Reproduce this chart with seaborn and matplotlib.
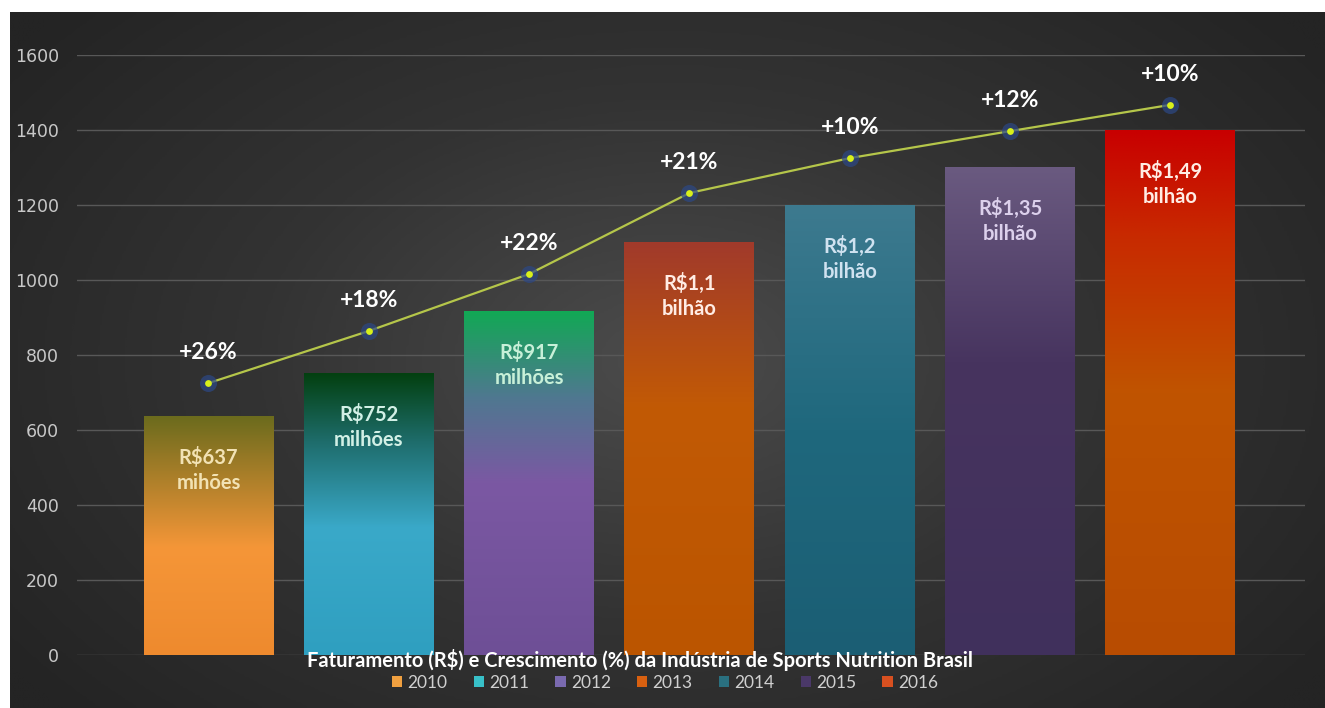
import numpy as np
import seaborn as sns
import matplotlib.pyplot as plt
from matplotlib.colors import LinearSegmentedColormap
from matplotlib.patches import Patch

# dados
anos = ["2010", "2011", "2012", "2013", "2014", "2015", "2016"]
faturamento = [637, 752, 917, 1100, 1200, 1300, 1400]
linha_crescimento = [725, 864, 1016, 1232, 1325, 1397, 1467]
crescimento = ["+26%", "+18%", "+22%", "+21%", "+10%", "+12%", "+10%"]
rotulos = [
    "R\\$637\nmihões",
    "R\\$752\nmilhões",
    "R\\$917\nmilhões",
    "R\\$1,1\nbilhão",
    "R\\$1,2\nbilhão",
    "R\\$1,35\nbilhão",
    "R\\$1,49\nbilhão",
]
yticks = [0, 200, 400, 600, 800, 1000, 1200, 1400, 1600]
titulo = "Faturamento (R\\$) e Crescimento (%) da Indústria de Sports Nutrition Brasil"

# estilos (gradiente de baixo para cima)
gradientes = [
    [(0, "#ee8a2e"), (0.45, "#f59638"), (1, "#6b6b1d")],
    [(0, "#2f9fc0"), (0.45, "#3aa9c9"), (0.75, "#1f6e6e"), (1, "#034010")],
    [(0, "#6e4f96"), (0.5, "#7b58a3"), (0.75, "#4f7890"), (1, "#12a855")],
    [(0, "#bb5500"), (0.6, "#c25a05"), (1, "#a13a2b")],
    [(0, "#1b5e74"), (0.5, "#1f687d"), (1, "#3d7a8f")],
    [(0, "#40305c"), (0.6, "#47345f"), (1, "#6a5a80")],
    [(0, "#b84c02"), (0.5, "#c05400"), (0.8, "#c82a00"), (1, "#c80000")],
]
cores_legenda = ["#f0a040", "#38c0c8", "#7a6ab0", "#d86010", "#2a7080", "#4a3868", "#d85020"]
cores_rotulos = ["#f2e2b4", "#d2f0e6", "#c8f0d8", "#ffece4", "#d0e2f0", "#dcd0ec", "#ffece4"]

plt.rcParams["font.family"] = ["Lato", "DejaVu Sans"]

fig = plt.figure(figsize=(13.25, 7.08), dpi=100, facecolor="white")

# fundo escuro com gradiente radial
bg = fig.add_axes([10 / 1325, 0, 1 - 10 / 1325, 1 - 12 / 708])
bg.axis("off")
yy, xx = np.mgrid[0:1:300j, 0:1:600j]
r = np.sqrt(((xx - 0.5) / 0.62) ** 2 + ((yy - 0.5) / 0.75) ** 2)
bg_cmap = LinearSegmentedColormap.from_list("bg", ["#4c4c4c", "#333333", "#242424"])
bg.imshow(np.clip(r, 0, 1), cmap=bg_cmap, aspect="auto", extent=[0, 1, 0, 1],
          vmin=0, vmax=1, interpolation="bilinear")

ax = fig.add_axes([77 / 1325, 53 / 708, 1228 / 1325, 600 / 708])
ax.set_facecolor("none")

sns.barplot(x=anos, y=faturamento, ax=ax, width=0.81, color="#888888", saturation=1)

for patch, stops in zip(ax.patches, gradientes):
    x0, w, h = patch.get_x(), patch.get_width(), patch.get_height()
    cmap = LinearSegmentedColormap.from_list("g", stops)
    grad = np.linspace(0, 1, 256).reshape(-1, 1)
    ax.imshow(grad, cmap=cmap, origin="lower", aspect="auto",
              extent=[x0, x0 + w, 0, h], zorder=2)
    patch.set_visible(False)

pos = np.arange(len(anos))
sns.lineplot(x=pos, y=linha_crescimento, ax=ax, color="#b5c64a", lw=1.6, zorder=4)
sns.scatterplot(x=pos, y=linha_crescimento, ax=ax, s=150, color="#2c4886",
                alpha=0.7, linewidth=0, zorder=5)
sns.scatterplot(x=pos, y=linha_crescimento, ax=ax, s=24, color="#d8f01a",
                linewidth=0, zorder=6)

for i, (v, txt) in enumerate(zip(linha_crescimento, crescimento)):
    ax.annotate(txt, (i, v), xytext=(0, 22), textcoords="offset points",
                ha="center", va="center", fontsize=16.5, fontweight="bold",
                color="white", zorder=7)

for i, (v, txt, c) in enumerate(zip(faturamento, rotulos, cores_rotulos)):
    ax.annotate(txt, (i, v), xytext=(0, -22), textcoords="offset points",
                ha="center", va="top", fontsize=14.5, fontweight="bold",
                color=c, linespacing=1.32, zorder=7)

ax.set_xlim(-0.82, 6.84)
ax.set_ylim(0, 1600)
ax.set_yticks(yticks)
ax.set_xticks([])
ax.set_xlabel("")
ax.set_ylabel("")
ax.yaxis.grid(True, color="#585858", lw=1.0)
ax.set_axisbelow(True)
for s in ax.spines.values():
    s.set_visible(False)
ax.tick_params(axis="y", length=0, pad=13, colors="#c8c8c8", labelsize=12.5)
for lab in ax.get_yticklabels():
    lab.set_family("DejaVu Sans")

fig.text(640 / 1325, 1 - 660 / 708, titulo, ha="center", va="center",
         fontsize=14.5, fontweight="bold", color="white")

handles = [Patch(facecolor=c, edgecolor="none") for c in cores_legenda]
fig.legend(handles, anos, loc="center", bbox_to_anchor=(665 / 1325, 1 - 683 / 708),
           ncol=7, frameon=False, fontsize=12.5, labelcolor="#d0d0d0",
           handlelength=0.6, handleheight=0.6, handletextpad=0.3, columnspacing=1.5)

fig.savefig("out.png", dpi=100, facecolor="white")
